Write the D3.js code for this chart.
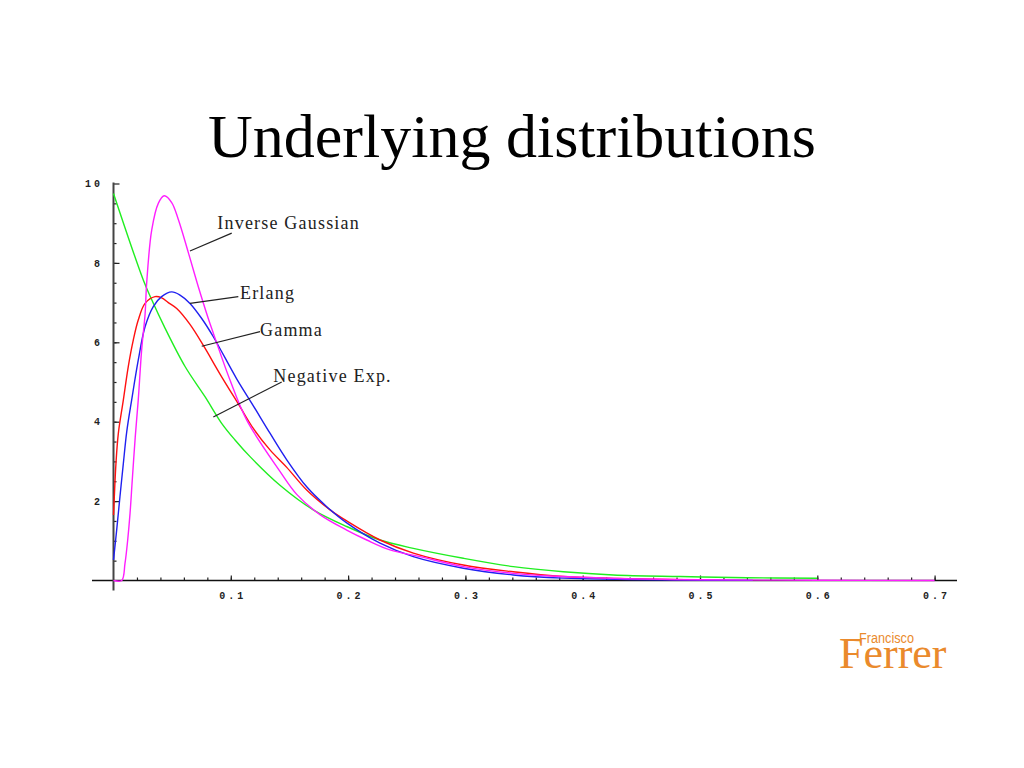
<!DOCTYPE html>
<html><head><meta charset="utf-8">
<script src="https://cdn.jsdelivr.net/npm/d3@7"></script>
<style>body{margin:0;background:#fff}svg{display:block}</style>
</head><body><svg id="c" width="1024" height="768"></svg>
<script>
// ---- data ----
const xTickLabels = ["0.1","0.2","0.3","0.4","0.5","0.6","0.7"];
const yTickLabels = ["2","4","6","8","10"];

const invGaussX = [0,0.007,0.0098,0.0121,0.0141,0.016,0.0185,0.0211,0.024,0.0269,0.0283,0.0326,0.0382,0.0433,0.0496,0.0552,0.0638,0.0723,0.0808,0.0851,0.0993,0.1136,0.1419,0.1562,0.176,0.1988,0.2159,0.2357,0.2613,0.2982,0.3408,0.3835,0.43,0.5,0.6,0.7];
const invGaussY = [0,0,0.43,1.02,1.69,2.53,3.6,4.55,5.81,6.7,7.5,8.83,9.5,9.69,9.52,9.1,8.26,7.4,6.6,6.23,5.05,4.04,2.75,2.17,1.66,1.27,1.02,0.77,0.6,0.35,0.18,0.1,0.05,0.02,0.005,0.001];

const erlangX = [0,0.0027,0.0055,0.0084,0.0113,0.0155,0.0211,0.0269,0.0339,0.041,0.0496,0.0567,0.0652,0.0752,0.0851,0.105,0.1192,0.1334,0.1477,0.1647,0.1818,0.1988,0.2272,0.2556,0.2982,0.3408,0.3835,0.43,0.48,0.545];
const erlangY = [0.52,1.27,2.11,2.95,3.75,4.55,5.55,6.39,6.9,7.15,7.27,7.19,6.98,6.6,6.14,5.08,4.4,3.71,3.04,2.36,1.86,1.45,0.94,0.6,0.31,0.14,0.06,0.03,0.012,0.004];

const gammaX = [0,0.0007,0.0021,0.0041,0.0084,0.0126,0.0169,0.0211,0.0269,0.0354,0.0411,0.0467,0.0539,0.0652,0.0766,0.0908,0.1078,0.1192,0.1334,0.1477,0.1647,0.1846,0.1988,0.2272,0.2556,0.2982,0.3408,0.3835,0.43,0.5];
const gammaY = [1.65,2.11,2.95,3.7,4.55,5.39,6.06,6.56,6.98,7.15,7.12,7.0,6.85,6.45,5.92,5.2,4.38,3.83,3.29,2.85,2.28,1.78,1.5,1.02,0.69,0.39,0.22,0.1,0.05,0.015];

const negExpX = [0,0.0254,0.0326,0.0432,0.061,0.078,0.0922,0.1036,0.1164,0.1419,0.1703,0.1988,0.2272,0.2556,0.2982,0.3408,0.3835,0.426,0.483,0.54,0.6];
const negExpY = [9.75,7.57,7.07,6.4,5.39,4.63,3.96,3.54,3.12,2.4,1.78,1.36,1.02,0.81,0.56,0.35,0.22,0.14,0.1,0.07,0.055];

const seriesNames = ["Inverse Gaussian","Erlang","Gamma","Negative Exp."];
const seriesColors = ["#ff1eff","#2020f0","#ff1010","#20ee20"];

// ---- drawing ----
const svg = d3.select("#c");
const x = d3.scaleLinear().domain([0,0.7]).range([113.5,934.6]);
const y = d3.scaleLinear().domain([0,10]).range([580.5,183.5]);

svg.append("text").attr("x",512).attr("y",157).attr("text-anchor","middle")
  .attr("font-family","'Liberation Serif','Times New Roman',serif").attr("font-size",62)
  .attr("fill","#000").text("Underlying distributions");

const monoFont = "'Liberation Mono','DejaVu Sans Mono',monospace";

// x axis
const gx = svg.append("g").attr("transform",`translate(0,${y(0)})`);
gx.call(d3.axisBottom(x).tickValues(d3.range(1,36).map(i=>i*0.02)).tickSize(-3).tickFormat(""));
gx.append("g").call(d3.axisBottom(x).tickValues(xTickLabels.map(Number)).tickSize(-5).tickPadding(11)
  .tickFormat((d,i)=>xTickLabels[i]));
gx.selectAll(".domain").remove();
gx.selectAll("line").attr("stroke","#222").attr("stroke-width",1.2);
gx.selectAll("text").attr("font-family",monoFont).attr("font-weight","bold").attr("font-size",10)
  .attr("letter-spacing","3px").attr("dx","1.5px").attr("fill","#222");
svg.append("line").attr("x1",92).attr("x2",957).attr("y1",y(0)).attr("y2",y(0))
  .attr("stroke","#111").attr("stroke-width",1.5);

// y axis
const gy = svg.append("g").attr("transform",`translate(${x(0)},0)`);
gy.call(d3.axisLeft(y).tickValues(d3.range(1,20).map(i=>i*0.5)).tickSize(-3).tickFormat(""));
gy.append("g").call(d3.axisLeft(y).tickValues(yTickLabels.map(Number)).tickSize(-6).tickPadding(10.5)
  .tickFormat((d,i)=>yTickLabels[i]));
gy.selectAll(".domain").remove();
gy.selectAll("line").attr("stroke","#222").attr("stroke-width",1.2);
gy.selectAll("text").attr("font-family",monoFont).attr("font-weight","bold").attr("font-size",10)
  .attr("letter-spacing","3px").attr("fill","#222");
svg.append("line").attr("x1",x(0)).attr("x2",x(0)).attr("y1",y(10)-1).attr("y2",y(0)+10)
  .attr("stroke","#444").attr("stroke-width",2);

// curves
const series = [
  {xs:invGaussX, ys:invGaussY},
  {xs:erlangX, ys:erlangY},
  {xs:gammaX, ys:gammaY},
  {xs:negExpX, ys:negExpY}
];
const line = d3.line().x(d=>x(d[0])).y(d=>y(d[1])).curve(d3.curveCatmullRom.alpha(0.5));
[3,2,1,0].forEach(i=>{
  const s = series[i];
  svg.append("path").datum(s.xs.map((v,j)=>[v,s.ys[j]]))
    .attr("d",line).attr("fill","none").attr("stroke",seriesColors[i]).attr("stroke-width",1.4);
});

// annotations (in data coords)
const labelTextPos = [[0.0885,8.85],[0.1078,7.09],[0.1249,6.16],[0.1362,5.01]];
const leaderFrom = [[0.0652,8.3],[0.0652,6.98],[0.0752,5.9],[0.0851,4.12]];
const leaderTo = [[0.1008,8.75],[0.1064,7.15],[0.1249,6.27],[0.1434,5.0]];
const serif = "'Liberation Serif','Times New Roman',serif";
seriesNames.forEach((n,i)=>{
  svg.append("line").attr("x1",x(leaderFrom[i][0])).attr("y1",y(leaderFrom[i][1]))
    .attr("x2",x(leaderTo[i][0])).attr("y2",y(leaderTo[i][1])).attr("stroke","#222").attr("stroke-width",1.2);
  svg.append("text").attr("x",x(labelTextPos[i][0])).attr("y",y(labelTextPos[i][1]))
    .attr("font-family",serif).attr("font-size",18).attr("letter-spacing","1.2px")
    .attr("fill","#222").text(n);
});

// logo
svg.append("text").attr("x",839).attr("y",668).attr("font-family",serif).attr("font-size",44)
  .attr("fill","#ea8a2c").text("Ferrer");
svg.append("text").attr("x",859).attr("y",643).attr("font-family","'Liberation Sans',Arial,sans-serif")
  .attr("font-size",14).attr("textLength",55).attr("lengthAdjust","spacingAndGlyphs")
  .attr("fill","#ea8a2c").text("Francisco");
</script></body></html>
